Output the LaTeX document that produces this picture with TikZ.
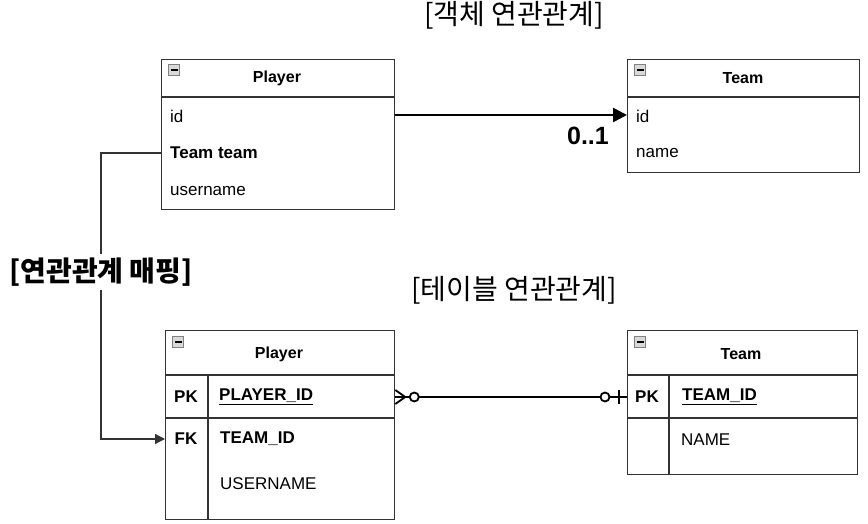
\documentclass[tikz,border=0pt]{standalone}
\usepackage{fontspec}
\setmainfont{Liberation Sans}
\newfontfamily\kr{Noto Sans CJK KR}
\usetikzlibrary{arrows.meta,positioning}

\tikzset{
  tbl/.style={draw=black!80, line width=1.3pt, fill=white, inner sep=0pt},
  hdr/.style={font=\fontsize{16}{18}\selectfont\bfseries},
  fld/.style={anchor=west, font=\fontsize{17}{19}\selectfont},
  key/.style={font=\fontsize{17}{19}\selectfont\bfseries},
  title/.style={font=\kr\fontsize{28}{32}\selectfont},
  assoc/.style={line width=2.6pt, -{Triangle[length=14pt,width=14pt]}},
  map/.style={draw=black!80, line width=1.2pt, -{Triangle[length=10pt,width=10pt]}},
  erl/.style={line width=2.4pt},
  minus/.style={draw=black!50, fill=black!15, minimum size=11pt, line width=0.6pt}
}

\begin{document}
\begin{tikzpicture}[x=1pt,y=-1pt]
\tikzstyle{every node}+=[inner sep=0pt]
\useasboundingbox (0,0) rectangle (868,524);

% object view
\node[title] (objtitle) at (514,15) {[객체 연관관계]};

\node[tbl, minimum width=233pt, minimum height=150pt, anchor=north west] (objplayer) at (161,59) {};
\draw[tbl] (161,97) -- (394,97);
\node[minus] (objplayerbtn) at (174,70) {};
\draw[line width=1.2pt] (170.5,70) -- (177.5,70);
\node[hdr] (objplayerhd) at (277,78) {Player};
\node[fld] (objid) at (170,116) {id};
\node[fld, font=\fontsize{17}{19}\selectfont\bfseries] (objteamf) at (170,153) {Team team};
\node[fld] (objuser) at (170,191) {username};

\node[tbl, minimum width=232pt, minimum height=113pt, anchor=north west] (objteam) at (627,59) {};
\draw[tbl] (627,97) -- (859,97);
\node[minus] (objteambtn) at (640,70) {};
\draw[line width=1.2pt] (636.5,70) -- (643.5,70);
\node[hdr] (objteamhd) at (743,78) {Team};
\node[fld] (objteamid) at (636,116) {id};
\node[fld] (objname) at (636,153) {name};

\draw[assoc] (objplayer.east |- 0,115) -- (objteam.west |- 0,115);
\node[font=\fontsize{25}{28}\selectfont\bfseries, anchor=east] (card) at (609,136) {0..1};

% table view
\node[title] (tbltitle) at (514,290) {[테이블 연관관계]};

\node[tbl, minimum width=229pt, minimum height=189pt, anchor=north west] (tblplayer) at (165,330) {};
\draw[tbl] (165,375) -- (394,375);
\draw[tbl] (165,418) -- (394,418);
\draw[tbl] (208,375) -- (208,519);
\node[minus] (tblplayerbtn) at (178,342) {};
\draw[line width=1.2pt] (174.5,342) -- (181.5,342);
\node[hdr] (tblplayerhd) at (279,354) {Player};
\node[key] (tblpk) at (186,397) {PK};
\node[fld, font=\fontsize{17}{19}\selectfont\bfseries] (tblpid) at (219,397) {\underline{PLAYER\_ID}};
\node[key] (tblfk) at (186,439) {FK};
\node[fld, font=\fontsize{17}{19}\selectfont\bfseries] (tblfid) at (220,439) {TEAM\_ID};
\node[fld] (tbluser) at (220,484) {USERNAME};

\node[tbl, minimum width=230pt, minimum height=144pt, anchor=north west] (tblteam) at (627,330) {};
\draw[tbl] (627,375) -- (857,375);
\draw[tbl] (627,418) -- (857,418);
\draw[tbl] (669,375) -- (669,474);
\node[minus] (tblteambtn) at (640,342) {};
\draw[line width=1.2pt] (636.5,342) -- (643.5,342);
\node[hdr] (tblteamhd) at (741,354) {Team};
\node[key] (tblteampk) at (647,397) {PK};
\node[fld, font=\fontsize{17}{19}\selectfont\bfseries] (tbltid) at (682,397) {\underline{TEAM\_ID}};
\node[fld] (tblname) at (681,440) {NAME};

% zero-or-many to zero-or-one
\coordinate (manyend) at (tblplayer.east |- tblpk);
\coordinate (oneend) at (tblteam.west |- tblpk);
\draw[erl] (manyend) -- (oneend);
\draw[erl, line width=1.8pt] (manyend) ++(0,-7) -- ++(10,7) -- ++(-10,7);
\draw[erl, line width=1.8pt, fill=white] (manyend) ++(19,0) circle (4.5);
\draw[erl, line width=1.8pt, fill=white] (oneend) ++(-22,0) circle (4.5);
\draw[erl, line width=1.8pt] (oneend) ++(-8,-7) -- ++(0,14);

% mapping
\draw[map] (objplayer.west |- objteamf) -- ++(-60,0) |- (tblplayer.west |- tblfk);
\node[fill=white, inner ysep=4pt, font=\kr\fontsize{28}{32}\selectfont\bfseries] (maplabel) at (101,272) {[연관관계 매핑]};
\end{tikzpicture}
\end{document}
